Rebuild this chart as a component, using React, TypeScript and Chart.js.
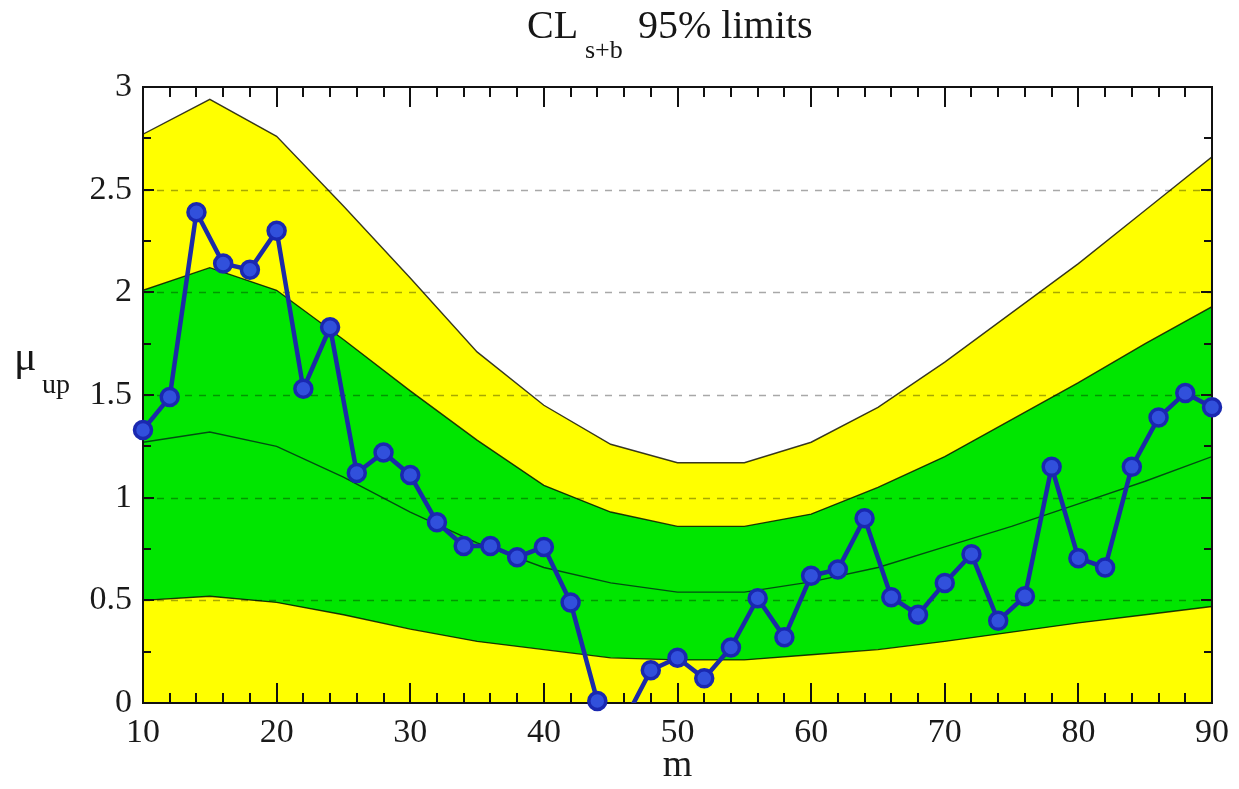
import { useEffect, useRef } from "react";
import { Chart, registerables } from "chart.js";

Chart.register(...registerables);

// ---- data ----
const obsMass = [10, 12, 14, 16, 18, 20, 22, 24, 26, 28, 30, 32, 34, 36, 38, 40, 42, 44, 46, 48, 50,
  52, 54, 56, 58, 60, 62, 64, 66, 68, 70, 72, 74, 76, 78, 80, 82, 84, 86, 88, 90];
const obsLimit = [1.33, 1.49, 2.39, 2.14, 2.11, 2.30, 1.53, 1.83, 1.12, 1.22, 1.11, 0.88, 0.765, 0.765, 0.71, 0.76, 0.49, 0.01, -0.09, 0.16, 0.22,
  0.12, 0.27, 0.51, 0.32, 0.62, 0.65, 0.90, 0.515, 0.43, 0.585, 0.725, 0.40, 0.52, 1.15, 0.705, 0.66, 1.15, 1.39, 1.51, 1.44];

const bandMass = [10, 15, 20, 25, 30, 35, 40, 45, 50, 55, 60, 65, 70, 75, 80, 85, 90];
const band2Up = [2.77, 2.94, 2.76, 2.42, 2.07, 1.71, 1.45, 1.26, 1.17, 1.17, 1.27, 1.44, 1.66, 1.90, 2.14, 2.40, 2.66];
const band1Up = [2.01, 2.12, 2.01, 1.77, 1.52, 1.28, 1.06, 0.93, 0.86, 0.86, 0.92, 1.05, 1.20, 1.38, 1.56, 1.75, 1.93];
const bandMedian = [1.27, 1.32, 1.25, 1.10, 0.93, 0.78, 0.66, 0.585, 0.54, 0.54, 0.59, 0.66, 0.76, 0.86, 0.97, 1.08, 1.20];
const band1Down = [0.50, 0.52, 0.49, 0.43, 0.36, 0.30, 0.26, 0.22, 0.21, 0.21, 0.235, 0.26, 0.30, 0.345, 0.39, 0.43, 0.47];

const yGridValues = [0.5, 1, 1.5, 2, 2.5];
const xMajorTicks = [10, 20, 30, 40, 50, 60, 70, 80, 90];
const yMajorTicks = [0, 0.5, 1, 1.5, 2, 2.5, 3];

const SERIF = '"Liberation Serif", "Times New Roman", serif';
const YELLOW = "#ffff00";
const GREEN = "#00e600";
const EDGE = "rgba(0,0,0,0.78)";
const BLUE_LINE = "#1c2aa8";

const pts = (xs: number[], ys: (number | null)[]) => xs.map((x, i) => ({ x, y: ys[i] }));

const decorPlugin = {
  id: "decor",
  afterDatasetDraw(chart: any, args: any) {
    const { ctx, chartArea: a, scales } = chart;
    const xs = scales.x;
    const ys = scales.y;
    if (args.index === 3) {
      // dashed grid over the bands
      ctx.save();
      ctx.setLineDash([7, 7]);
      ctx.strokeStyle = "rgba(0,0,0,0.34)";
      ctx.lineWidth = 1.5;
      for (const v of yGridValues) {
        const py = Math.round(ys.getPixelForValue(v)) + 0.5;
        ctx.beginPath();
        ctx.moveTo(a.left, py);
        ctx.lineTo(a.right, py);
        ctx.stroke();
      }
      ctx.restore();
    }
    if (args.index === 2) {
      // frame and inward ticks
      ctx.save();
      ctx.strokeStyle = "#111";
      ctx.lineWidth = 2;
      for (let v = 10; v <= 90; v += 2) {
        const major = xMajorTicks.includes(v);
        const len = major ? 20 : 10;
        const px = Math.round(xs.getPixelForValue(v));
        ctx.beginPath();
        ctx.moveTo(px, a.bottom);
        ctx.lineTo(px, a.bottom - len);
        ctx.moveTo(px, a.top);
        ctx.lineTo(px, a.top + len);
        ctx.stroke();
      }
      for (let k = 0; k <= 12; k++) {
        const v = k * 0.25;
        const major = yMajorTicks.includes(v);
        const len = major ? 11 : 8;
        const py = Math.round(ys.getPixelForValue(v));
        ctx.beginPath();
        ctx.moveTo(a.left, py);
        ctx.lineTo(a.left + len, py);
        ctx.moveTo(a.right, py);
        ctx.lineTo(a.right - len, py);
        ctx.stroke();
      }
      ctx.strokeRect(a.left, a.top, a.right - a.left, a.bottom - a.top);
      ctx.restore();
    }
  },
  afterDraw(chart: any) {
    const { ctx } = chart;
    ctx.save();
    ctx.fillStyle = "#161616";
    ctx.textAlign = "left";
    ctx.textBaseline = "alphabetic";
    ctx.font = `40px ${SERIF}`;
    ctx.fillText("CL", 527, 38);
    ctx.font = `26px ${SERIF}`;
    ctx.fillText("s+b", 585, 58);
    ctx.font = `40px ${SERIF}`;
    ctx.fillText("95% limits", 638, 38);
    ctx.font = `42px ${SERIF}`;
    ctx.fillText("\u03bc", 14, 370);
    ctx.font = `28px ${SERIF}`;
    ctx.fillText("up", 42, 393);
    ctx.restore();
  },
};

export default function App() {
  const ref = useRef<HTMLCanvasElement | null>(null);

  useEffect(() => {
    if (!ref.current) return;
    const markerVals = obsLimit.map((v) => (v < 0 ? null : v));
    const chart = new Chart(ref.current, {
      type: "line",
      data: {
        datasets: [
          {
            label: "observed",
            data: pts(obsMass, obsLimit),
            borderColor: BLUE_LINE,
            borderWidth: 4.5,
            pointRadius: 0,
            fill: false,
            order: 1,
            clip: { left: 12, top: 12, right: 12, bottom: 0 },
          } as any,
          {
            label: "observed markers",
            data: pts(obsMass, markerVals),
            showLine: false,
            pointRadius: 8.5,
            pointBorderWidth: 3.5,
            pointBackgroundColor: "#3150dc",
            pointBorderColor: "#1a28b0",
            fill: false,
            order: 0,
            clip: false,
          } as any,
          {
            label: "median",
            data: pts(bandMass, bandMedian),
            borderColor: "rgba(0,60,20,0.9)",
            borderWidth: 1.4,
            pointRadius: 0,
            fill: false,
            order: 2,
          },
          {
            label: "-1 sigma",
            data: pts(bandMass, band1Down),
            borderColor: EDGE,
            borderWidth: 1.4,
            pointRadius: 0,
            fill: false,
            order: 3,
          },
          {
            label: "+1 sigma",
            data: pts(bandMass, band1Up),
            borderColor: EDGE,
            borderWidth: 1.4,
            pointRadius: 0,
            backgroundColor: GREEN,
            fill: 3,
            order: 4,
          },
          {
            label: "+2 sigma",
            data: pts(bandMass, band2Up),
            borderColor: EDGE,
            borderWidth: 1.4,
            pointRadius: 0,
            backgroundColor: YELLOW,
            fill: "origin",
            order: 5,
          },
        ],
      },
      options: {
        animation: false,
        responsive: true,
        maintainAspectRatio: false,
        layout: { padding: { left: 0, top: 87, right: 23, bottom: 0 } },
        elements: { line: { tension: 0 } },
        plugins: {
          legend: { display: false },
          tooltip: { enabled: false },
          title: { display: false },
        },
        scales: {
          x: {
            type: "linear",
            min: 10,
            max: 90,
            border: { display: false },
            grid: { display: false, drawTicks: false },
            ticks: {
              stepSize: 10,
              maxRotation: 0,
              padding: 10,
              color: "#1a1a1a",
              font: { family: SERIF, size: 34 },
            },
            title: {
              display: true,
              text: "m",
              color: "#1a1a1a",
              font: { family: SERIF, size: 38 },
              padding: { top: 4, bottom: 0 },
            },
            afterFit: (s: any) => {
              s.height = 86;
            },
          },
          y: {
            type: "linear",
            min: 0,
            max: 3,
            border: { display: false },
            grid: { display: false, drawTicks: false },
            ticks: {
              stepSize: 0.5,
              padding: 11,
              color: "#1a1a1a",
              font: { family: SERIF, size: 34 },
              callback: (v: any) => `${v}`,
            },
            afterFit: (s: any) => {
              s.width = 143;
            },
          },
        },
      },
      plugins: [decorPlugin],
    });
    return () => chart.destroy();
  }, []);

  return (
    <div style={{ position: "fixed", left: 0, top: 0, width: 1239, height: 789, background: "#fff" }}>
      <canvas ref={ref} />
    </div>
  );
}
